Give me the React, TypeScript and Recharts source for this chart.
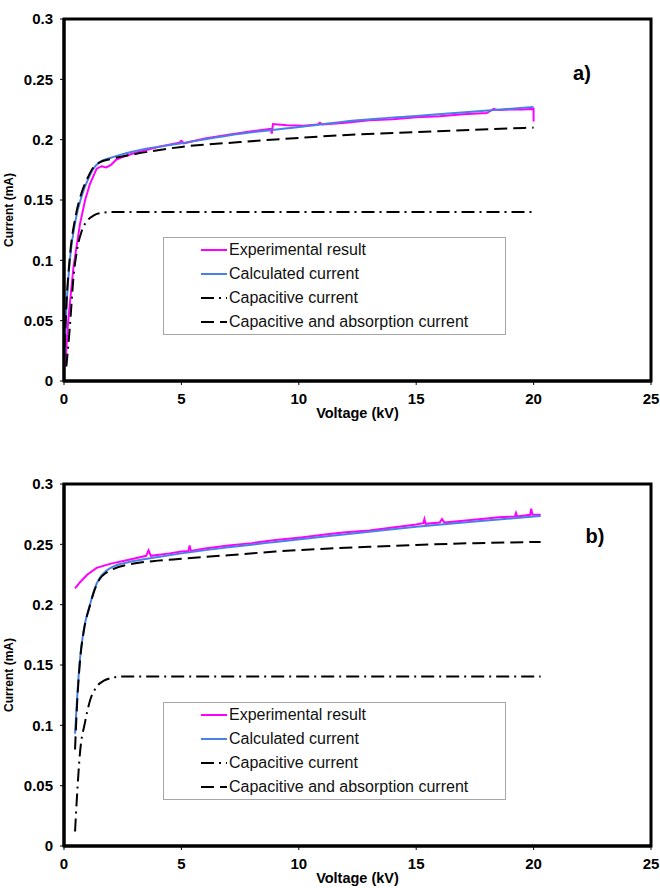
import React from "react"
import { LineChart, Line, XAxis, YAxis, ReferenceArea, Legend, Customized } from "recharts"

// voltage (kV) / current pairs
const expA: [number, number][] = [
  [0.05, 0.012], [0.18, 0.05], [0.4, 0.094], [0.68, 0.13], [0.9, 0.15], [1.1, 0.163], [1.39, 0.176],
  [1.6, 0.178], [1.8, 0.177], [2.0, 0.179], [2.2, 0.183], [2.4, 0.185], [3, 0.189], [4, 0.194],
  [4.9, 0.1975], [5.0, 0.199], [5.1, 0.197], [6, 0.201], [7, 0.204], [8, 0.207], [8.8, 0.209],
  [8.85, 0.205], [8.9, 0.213], [9.5, 0.212], [10.2, 0.2115], [10.8, 0.2125], [10.9, 0.214],
  [11, 0.2125], [12, 0.214], [13, 0.216], [14, 0.217], [15, 0.2185], [16, 0.2195], [17, 0.221],
  [18, 0.222], [18.3, 0.2255], [18.5, 0.2245], [19, 0.225], [19.5, 0.225], [20, 0.2255], [20, 0.215],
]
const calcA: [number, number][] = [
  [0, 0.012], [0.1, 0.06], [0.25, 0.1], [0.5, 0.134], [0.75, 0.153], [1.0, 0.166], [1.25, 0.176],
  [1.5, 0.181], [2, 0.185], [3, 0.1905], [5, 0.197], [7, 0.2035], [10, 0.2105], [12.5, 0.216],
  [15, 0.2197], [17.5, 0.2234], [20, 0.227],
]
const capA: [number, number][] = [
  [0.1, 0.012], [0.25, 0.045], [0.4, 0.085], [0.55, 0.108], [0.75, 0.124], [1.0, 0.133],
  [1.25, 0.137], [1.5, 0.139], [2, 0.14], [20, 0.14],
]
const absA: [number, number][] = [
  [0, 0.012], [0.1, 0.062], [0.25, 0.103], [0.5, 0.137], [0.75, 0.156], [1.0, 0.168], [1.25, 0.177],
  [1.5, 0.181], [2, 0.184], [3, 0.188], [5, 0.194], [7.5, 0.198], [10, 0.2015], [12.5, 0.2043],
  [15, 0.2063], [17.5, 0.2082], [20, 0.21],
]

const expB: [number, number][] = [
  [0.47, 0.2135], [0.7, 0.219], [1.0, 0.225], [1.39, 0.2305], [2, 0.234], [2.81, 0.2375], [3.5, 0.2405],
  [3.6, 0.245], [3.7, 0.2405], [4.5, 0.2425], [5, 0.244], [5.3, 0.2445], [5.35, 0.249], [5.4, 0.2445],
  [6, 0.2465], [7, 0.249], [8, 0.251], [9, 0.2535], [10, 0.2555], [11.3, 0.2585], [12, 0.26],
  [13, 0.2615], [14, 0.264], [15, 0.2665], [15.3, 0.2675], [15.35, 0.271], [15.4, 0.267], [16, 0.268],
  [16.1, 0.271], [16.2, 0.268], [17, 0.2695], [18, 0.2715], [18.5, 0.2725], [19.2, 0.273],
  [19.25, 0.276], [19.3, 0.273], [19.85, 0.2745], [19.9, 0.2795], [19.95, 0.2745], [20.3, 0.2745],
]
const calcB: [number, number][] = [
  [0.47, 0.093], [0.55, 0.12], [0.68, 0.155], [0.85, 0.18], [1.1, 0.1995], [1.3, 0.213], [1.53, 0.2225],
  [1.8, 0.228], [2.09, 0.2315], [2.81, 0.2355], [4, 0.2395], [5, 0.2425], [7, 0.2475], [9, 0.252],
  [11.3, 0.257], [13, 0.2605], [15, 0.2645], [17.5, 0.269], [20.3, 0.2735],
]
const capB: [number, number][] = [
  [0.47, 0.012], [0.55, 0.04], [0.68, 0.077], [0.89, 0.102], [1.1, 0.12], [1.39, 0.132], [1.7, 0.137],
  [1.96, 0.139], [2.5, 0.1405], [20.3, 0.1405],
]
const absB: [number, number][] = [
  [0.47, 0.08], [0.55, 0.115], [0.68, 0.153], [0.85, 0.179], [1.1, 0.199], [1.3, 0.212], [1.53, 0.2215],
  [1.8, 0.2265], [2.09, 0.2295], [2.81, 0.2335], [4, 0.2365], [5, 0.238], [7, 0.241], [9, 0.244],
  [11.3, 0.2465], [13, 0.248], [15, 0.2495], [17.5, 0.251], [20.3, 0.252],
]

const xTicks = [0, 5, 10, 15, 20, 25]
const yTicks = [0, 0.05, 0.1, 0.15, 0.2, 0.25, 0.3]
const seriesNames = ["Experimental result", "Calculated current", "Capacitive current", "Capacitive and absorption current"]
const seriesColors = ["#ff00ff", "#4a7fe6", "#000000", "#000000"]
const seriesDashes = [undefined, undefined, "13 5 2 5", "13 6"]
const seriesCurve = ["linear", "monotone", "monotone", "monotone"] as const

const toPts = (arr: [number, number][]) => arr.map(([x, y]) => ({ x, y }))

const FONT = "'Liberation Sans', Arial, sans-serif"

function LegendBox() {
  return (
    <div style={{ fontFamily: FONT, fontSize: 16, color: "#111" }}>
      {seriesNames.map((name, i) => (
        <div key={name} style={{ height: 24, display: "flex", alignItems: "center" }}>
          <svg width={26} height={4} style={{ marginLeft: 37 }}>
            <line x1={0} y1={2} x2={26} y2={2} stroke={seriesColors[i]} strokeWidth={2} strokeDasharray={seriesDashes[i]} />
          </svg>
          <span style={{ marginLeft: 2, lineHeight: "24px" }}>{name}</span>
        </div>
      ))}
    </div>
  )
}

type PanelProps = {
  top: number
  height: number
  series: [number, number][][]
  tag: string
  tagX: number
  tagY: number
}

function Panel({ top, height, series, tag, tagX, tagY }: PanelProps) {
  const plotTop = 19
  const plotH = 362
  const yLabelY = plotTop + plotH / 2 + 10
  return (
    <div style={{ position: "absolute", left: 0, top, width: 660, height }}>
      <LineChart width={660} height={height} margin={{ top: plotTop, right: 9, bottom: height - plotTop - plotH - 37, left: 0 }}>
        <XAxis
          type="number"
          dataKey="x"
          domain={[0, 25]}
          ticks={xTicks}
          height={37}
          tickSize={4}
          tickMargin={8}
          axisLine={{ stroke: "#000", strokeWidth: 3 }}
          tickLine={{ stroke: "#000" }}
          tick={{ fill: "#000", fontFamily: FONT, fontSize: 15, fontWeight: 700 }}
          label={{ value: "Voltage (kV)", position: "insideBottom", offset: 0, fill: "#000", fontFamily: FONT, fontSize: 14.5, fontWeight: 700 }}
        />
        <YAxis
          type="number"
          domain={[0, 0.3]}
          ticks={yTicks}
          width={64}
          tickSize={4}
          tickMargin={7}
          axisLine={{ stroke: "#000", strokeWidth: 3 }}
          tickLine={{ stroke: "#000" }}
          tick={{ fill: "#000", fontFamily: FONT, fontSize: 15, fontWeight: 700 }}
          tickFormatter={(v: number) => String(v)}
          label={{
            content: () => (
              <text
                x={13}
                y={yLabelY}
                transform={`rotate(-90, 13, ${yLabelY})`}
                textAnchor="middle"
                fontFamily={FONT}
                fontSize={12}
                fontWeight={700}
                fill="#000"
              >
                Current (mA)
              </text>
            ),
          }}
        />
        <ReferenceArea x1={0} x2={25} y1={0} y2={0.3} fill="none" fillOpacity={0} stroke="#000" strokeWidth={3} />
        {series.map((s, i) => (
          <Line
            key={seriesNames[i]}
            data={toPts(s)}
            dataKey="y"
            name={seriesNames[i]}
            type={seriesCurve[i]}
            stroke={seriesColors[i]}
            strokeWidth={2}
            strokeDasharray={seriesDashes[i]}
            dot={false}
            activeDot={false}
            isAnimationActive={false}
          />
        ))}
        <Legend
          layout="vertical"
          align="center"
          verticalAlign="middle"
          content={() => <LegendBox />}
          wrapperStyle={{
            left: 163,
            top: 237,
            width: 343,
            height: 98,
            border: "1px solid #a6a6a6",
            background: "#fff",
            boxSizing: "border-box",
          }}
        />
        <Customized
          component={() => (
            <text x={tagX} y={tagY} textAnchor="middle" dominantBaseline="central" fontFamily={FONT} fontSize={20} fontWeight={700} fill="#000">
              {tag}
            </text>
          )}
        />
      </LineChart>
    </div>
  )
}

export default function App() {
  return (
    <div style={{ position: "absolute", left: 0, top: 0, width: 660, height: 888, background: "#fff" }}>
      <Panel top={0} height={430} series={[expA, calcA, capA, absA]} tag="a)" tagX={582} tagY={73} />
      <Panel top={465} height={423} series={[expB, calcB, capB, absB]} tag="b)" tagX={595} tagY={71} />
    </div>
  )
}
